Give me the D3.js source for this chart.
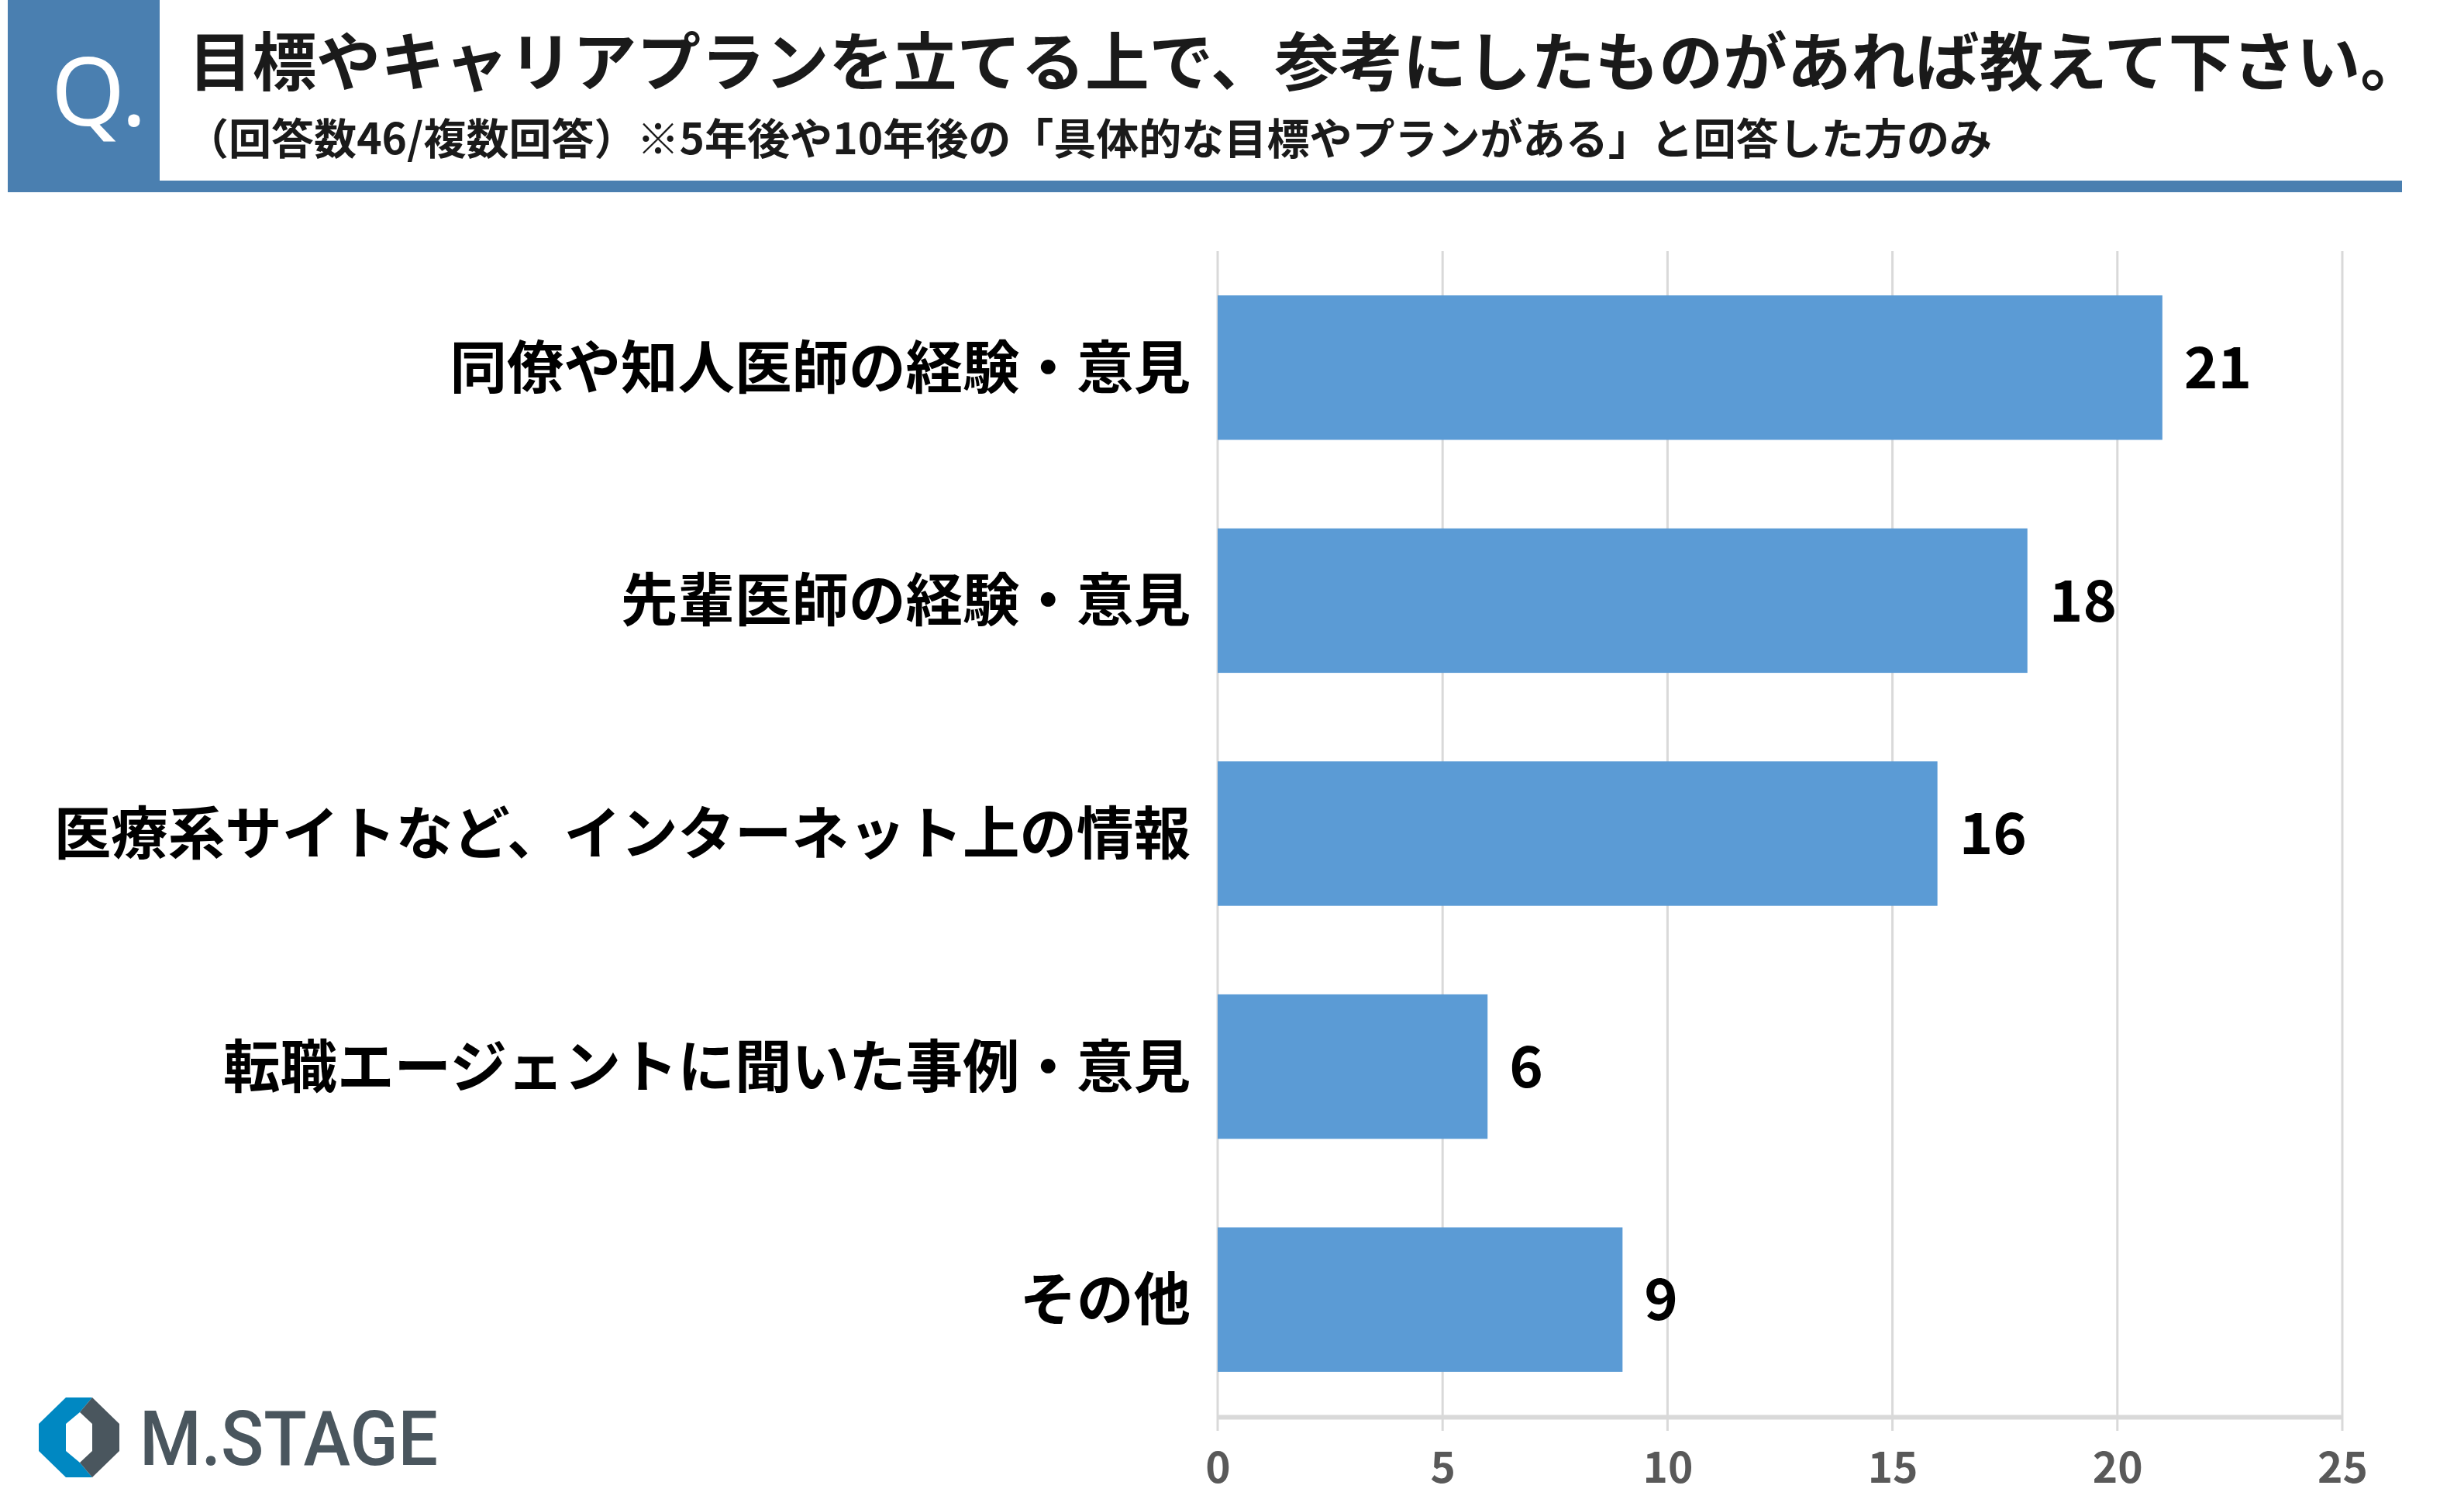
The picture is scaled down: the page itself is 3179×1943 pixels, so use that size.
<!DOCTYPE html>
<html>
<head>
<meta charset="utf-8">
<script src="https://cdn.jsdelivr.net/npm/d3@7"></script>
<style>
  body { margin: 0; background: #fff; }
  text { font-family: "Noto Sans CJK JP", "Noto Sans", sans-serif; }
</style>
</head>
<body>
<div id="chart-area"></div>
<script>

// data
let categories = [
  "同僚や知人医師の経験・意見",
  "先輩医師の経験・意見",
  "医療系サイトなど、インターネット上の情報",
  "転職エージェントに聞いた事例・意見",
  "その他"
];
let counts = [21, 18, 16, 6, 9];
let xTicks = [0, 5, 10, 15, 20, 25];

let titleText = "目標やキャリアプランを立てる上で、参考にしたものがあれば教えて下さい。";
let subtitleText = "（回答数46/複数回答）※5年後や10年後の「具体的な目標やプランがある」と回答した方のみ";

let width = 3179,
    height = 1943;

let svg = d3.select("#chart-area").append("svg")
    .attr("width", width)
    .attr("height", height);

// header
svg.append("rect")
  .attr("x", 10).attr("y", 0)
  .attr("width", 196).attr("height", 248)
  .attr("fill", "#4a7fb0");

svg.append("rect")
  .attr("x", 206).attr("y", 233)
  .attr("width", 2893).attr("height", 15)
  .attr("fill", "#4a7fb0");

svg.append("text")
  .attr("x", 66).attr("y", 162)
  .attr("fill", "#fff")
  .style("font-family", "'Noto Sans', sans-serif")
  .style("font-size", "122px")
  .text("Q.");

svg.append("text")
  .attr("x", 243).attr("y", 110)
  .attr("fill", "#1a1a1a")
  .attr("textLength", 2885)
  .attr("lengthAdjust", "spacingAndGlyphs")
  .style("font-size", "82px")
  .style("font-weight", "bold")
  .text(titleText);

svg.append("text")
  .attr("x", 240).attr("y", 199)
  .attr("fill", "#1a1a1a")
  .attr("textLength", 2330)
  .attr("lengthAdjust", "spacingAndGlyphs")
  .style("font-size", "55px")
  .style("font-weight", "bold")
  .text(subtitleText);

// scales
let x = d3.scaleLinear()
  .domain([0, 25])
  .range([1571, 3022]);

let y = d3.scaleBand()
  .domain(categories)
  .range([324, 1827])
  .paddingInner(0.38)
  .paddingOuter(0.19);

// gridlines (running past the axis line as ticks)
svg.selectAll(".grid")
  .data(xTicks)
  .enter().append("line")
  .attr("class", "grid")
  .attr("x1", function(d) { return x(d); })
  .attr("x2", function(d) { return x(d); })
  .attr("y1", 324)
  .attr("y2", 1846)
  .style("stroke", "#d9d9d9")
  .style("stroke-width", 3);

// bottom axis
let xAxis = d3.axisBottom(x)
  .tickValues(xTicks)
  .tickSize(0)
  .tickPadding(46);

let axisG = svg.append("g")
  .attr("transform", "translate(0,1828)")
  .call(xAxis);

axisG.select(".domain")
  .style("stroke", "#d9d9d9")
  .style("stroke-width", 6);

axisG.selectAll("text")
  .attr("fill", "#595959")
  .style("font-family", "'Noto Sans CJK JP', sans-serif")
  .style("font-size", "55px")
  .style("font-weight", "bold");

// bars
svg.selectAll(".bar")
  .data(counts)
  .enter().append("rect")
  .attr("class", "bar")
  .attr("x", x(0))
  .attr("y", function(d, i) { return y(categories[i]); })
  .attr("width", function(d) { return x(d) - x(0); })
  .attr("height", y.bandwidth())
  .attr("fill", "#5b9bd5");

// value labels
svg.selectAll(".value")
  .data(counts)
  .enter().append("text")
  .attr("class", "value")
  .attr("x", function(d) { return x(d) + 28; })
  .attr("y", function(d, i) { return y(categories[i]) + y.bandwidth() / 2; })
  .attr("dy", "0.36em")
  .attr("fill", "#000")
  .style("font-size", "74px")
  .style("font-weight", "bold")
  .text(function(d) { return d; });

// category labels
svg.selectAll(".cat")
  .data(categories)
  .enter().append("text")
  .attr("class", "cat")
  .attr("x", 1536)
  .attr("y", function(d) { return y(d) + y.bandwidth() / 2; })
  .attr("dy", "0.36em")
  .attr("text-anchor", "end")
  .attr("fill", "#000")
  .style("font-size", "73.5px")
  .style("font-weight", "bold")
  .text(function(d) { return d; });

// logo
let logo = svg.append("g");

logo.append("path")
  .attr("d", "M85,1803 L119,1803 L103,1822 L85,1837 L85,1872 L103,1887 L119,1906 L85,1906 L50,1872 L50,1837 Z")
  .attr("fill", "#0088c2");

logo.append("path")
  .attr("d", "M119,1803 L154,1837 L154,1872 L119,1906 L103,1887 L119,1872 L119,1837 L103,1822 Z")
  .attr("fill", "#4a565e");

logo.append("text")
  .attr("x", 180).attr("y", 1890)
  .attr("fill", "#4a565e")
  .attr("textLength", 385)
  .attr("lengthAdjust", "spacingAndGlyphs")
  .style("font-family", "Roboto, sans-serif")
  .style("font-size", "98px")
  .style("font-weight", 500)
  .text("M.STAGE");

</script>
</body>
</html>
